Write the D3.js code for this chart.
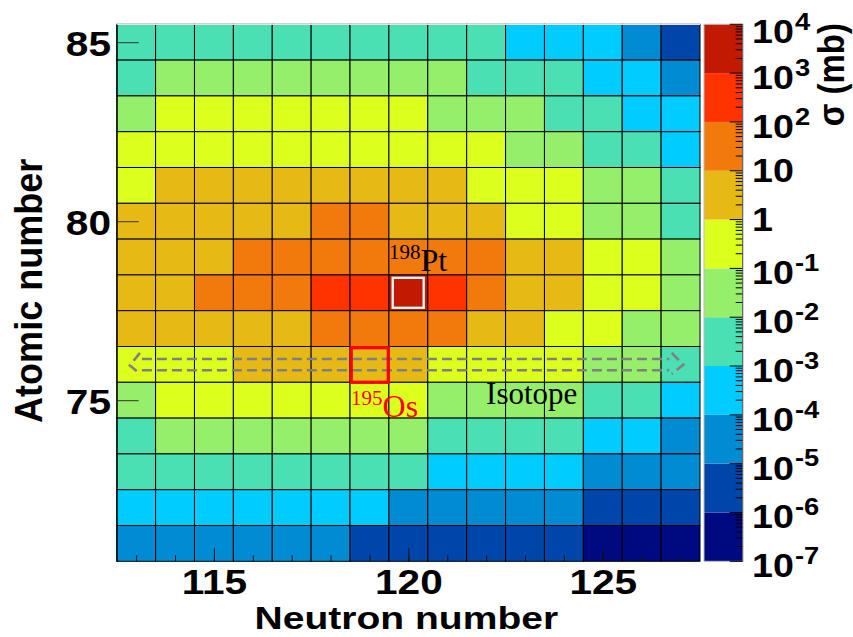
<!DOCTYPE html>
<html><head><meta charset="utf-8">
<script src="https://cdn.jsdelivr.net/npm/d3@7"></script>
<style>body{margin:0;background:#fff} svg{display:block}</style>
</head><body>
<svg id="chart" width="853" height="637"></svg>
<script>
// ---- data (cross sections in mb, read per cell from the picture) ----
const neutronNumbers = [113,114,115,116,117,118,119,120,121,122,123,124,125,126,127];
const atomicNumbers  = [85,84,83,82,81,80,79,78,77,76,75,74,73,72,71];
const crossSections = [
  [3e-3,3e-3,3e-3,3e-3,3e-3,3e-3,3e-3,3e-3,3e-3,3e-3,3e-4,3e-4,3e-4,3e-5,3e-6], // Z=85
  [3e-3,3e-2,3e-2,3e-2,3e-2,3e-2,3e-2,3e-2,3e-2,3e-3,3e-3,3e-3,3e-4,3e-4,3e-5], // Z=84
  [3e-2,0.3,0.3,0.3,0.3,0.3,0.3,0.3,3e-2,3e-2,3e-2,3e-3,3e-3,3e-4,3e-4],        // Z=83
  [0.3,0.3,0.3,0.3,0.3,0.3,0.3,0.3,0.3,0.3,3e-2,3e-2,3e-3,3e-3,3e-4],           // Z=82
  [0.3,3,3,3,3,3,3,3,3,0.3,0.3,0.3,3e-2,3e-2,3e-3],                             // Z=81
  [3,3,3,3,3,30,30,3,3,3,0.3,0.3,3e-2,3e-2,3e-3],                               // Z=80
  [3,3,3,30,30,30,30,30,30,30,3,3,0.3,0.3,3e-2],                                // Z=79
  [3,3,30,30,30,300,300,3000,300,30,3,3,0.3,0.3,3e-2],                          // Z=78
  [3,3,3,3,3,30,30,30,30,3,3,0.3,0.3,3e-2,3e-2],                                // Z=77
  [0.3,0.3,0.3,3,3,3,3,3,0.3,0.3,0.3,0.3,3e-2,3e-2,3e-3],                       // Z=76
  [3e-2,0.3,0.3,0.3,0.3,0.3,0.3,0.3,3e-2,3e-2,3e-2,3e-2,3e-3,3e-3,3e-4],        // Z=75
  [3e-3,3e-2,3e-2,3e-2,3e-2,3e-2,3e-2,3e-2,3e-3,3e-3,3e-3,3e-3,3e-4,3e-4,3e-5], // Z=74
  [3e-3,3e-3,3e-3,3e-3,3e-3,3e-3,3e-3,3e-3,3e-4,3e-4,3e-4,3e-4,3e-5,3e-5,3e-5], // Z=73
  [3e-4,3e-4,3e-4,3e-4,3e-4,3e-4,3e-4,3e-5,3e-5,3e-5,3e-5,3e-5,3e-6,3e-6,3e-6], // Z=72
  [3e-5,3e-5,3e-5,3e-5,3e-5,3e-5,3e-6,3e-6,3e-6,3e-6,3e-6,3e-6,3e-7,3e-7,3e-7]  // Z=71
];
const colorDecades = [1e-7,1e-6,1e-5,1e-4,1e-3,1e-2,1e-1,1,10,100,1e3,1e4];
const paletteColors = ["#000a80","#0045a9","#008bd2","#00ccff","#4bdfb4","#96ef6a",
                       "#dcff1e","#e6b914","#f27a0c","#ff3300","#c21a00"];
const colorExponents = [-7,-6,-5,-4,-3,-2,-1,0,1,2,3,4];
const xTickLabels = [115,120,125];
const yTickLabels = [75,80,85];
const highlightPt = {n:120, z:78, mass:"198", el:"Pt"};
const highlightOs = {n:119, z:76, mass:"195", el:"Os"};
const isotopeLine = {from:112.84, to:127.07, z:76, label:"Isotope", labelN:122.0, labelZ:75};

// ---- layout ----
const svg = d3.select("#chart");
const X0=116.7, X1=700, Y0=24.3, Y1=561.3;
const x = d3.scaleLinear().domain([112.5,127.5]).range([X0,X1]);
const y = d3.scaleLinear().domain([70.5,85.5]).range([Y1,Y0]);
const color = d3.scaleThreshold().domain(colorDecades.slice(1,-1)).range(paletteColors);
const cAxis = d3.scaleLog().domain([1e-7,1e4]).range([Y1,Y0]);
const SANS = "'Liberation Sans', Arial, Helvetica, sans-serif";
const SERIF = "'Liberation Serif', 'Times New Roman', serif";

// ---- cells ----
const cells = [];
atomicNumbers.forEach((z,i)=>neutronNumbers.forEach((n,j)=>cells.push({n, z, v:crossSections[i][j]})));
svg.append("g").selectAll("rect").data(cells).join("rect")
  .attr("x", d=>x(d.n-0.5)).attr("y", d=>y(d.z+0.5))
  .attr("width", d=>x(d.n+0.5)-x(d.n-0.5)).attr("height", d=>y(d.z-0.5)-y(d.z+0.5))
  .attr("fill", d=>color(d.v)).attr("stroke","#000").attr("stroke-width",1);
svg.append("line").attr("x1",X0).attr("x2",X1).attr("y1",Y0).attr("y2",Y0)
  .attr("stroke","#e4e4e4").attr("stroke-width",1.2);

// ---- x axis ----
const gxMinor = svg.append("g").attr("transform",`translate(0,${Y1})`)
  .call(d3.axisBottom(x).tickValues(neutronNumbers).tickSizeInner(-6).tickSizeOuter(0).tickFormat(""));
gxMinor.select(".domain").remove();
gxMinor.selectAll("line").attr("stroke","#111");
const gx = svg.append("g").attr("transform",`translate(0,${Y1})`)
  .call(d3.axisBottom(x).tickValues(xTickLabels).tickSizeInner(-13).tickSizeOuter(0).tickPadding(0));
gx.select(".domain").remove();
gx.selectAll("line").attr("stroke","#111");
gx.attr("font-family",SANS).attr("font-size",35).attr("font-weight","bold");
gx.selectAll("text").attr("y",32.7).attr("dy",0).attr("fill","#000").attr("transform","scale(1.16,1)");

// ---- y axis ----
const gy = svg.append("g").attr("transform",`translate(${X0},0)`)
  .call(d3.axisLeft(y).tickValues(yTickLabels).tickSizeInner(-22).tickSizeOuter(0));
gy.select(".domain").attr("stroke","#000");
gy.selectAll("line").attr("stroke","#333");
gy.attr("font-family",SANS).attr("font-size",35).attr("font-weight","bold");
gy.selectAll("text").attr("x",0).attr("dy",0).attr("fill","#000")
  .attr("transform","translate(-5.7,13.5) scale(1.16,1)");

// ---- axis titles ----
svg.append("text").attr("transform",`translate(${(X0+X1)/2-2},629.3) scale(1.22,1)`)
  .attr("text-anchor","middle").attr("font-family",SANS).attr("font-weight","bold")
  .attr("font-size",32).text("Neutron number");
svg.append("text").attr("transform",`translate(41.7,${(Y0+Y1)/2-2}) rotate(-90) scale(1.03,1.1)`)
  .attr("text-anchor","middle").attr("font-family",SANS).attr("font-weight","bold")
  .attr("font-size",35).text("Atomic number");

// ---- colour bar ----
const cbX0 = 704, cbX1 = 742.7;
const bands = paletteColors.map((c,i)=>({c, lo:colorDecades[i], hi:colorDecades[i+1]}));
svg.append("g").selectAll("rect").data(bands).join("rect")
  .attr("x",cbX0).attr("width",cbX1-cbX0)
  .attr("y",d=>cAxis(d.hi)).attr("height",d=>cAxis(d.lo)-cAxis(d.hi))
  .attr("fill",d=>d.c);
svg.append("rect").attr("x",cbX0).attr("y",Y0).attr("width",cbX1-cbX0).attr("height",Y1-Y0)
  .attr("fill","none").attr("stroke","#bbb").attr("stroke-width",1);
const cbTicks = cAxis.ticks(20);
svg.append("g").selectAll("line").data(cbTicks).join("line")
  .attr("x1",cbX1).attr("x2",d=>{const e=Math.log10(d); return cbX1-(Math.abs(e-Math.round(e))<1e-9?13:7);})
  .attr("y1",d=>cAxis(d)).attr("y2",d=>cAxis(d))
  .attr("stroke","#000").attr("stroke-width",1);
svg.append("line").attr("x1",cbX1).attr("x2",cbX1).attr("y1",Y0).attr("y2",Y1).attr("stroke","#555");

const cbLabels = svg.append("g").attr("font-family",SANS).attr("font-weight","bold").attr("fill","#000");
colorExponents.forEach(e=>{
  const sup = (e!==0 && e!==1);
  const yy = cAxis(Math.pow(10,e));
  const base = Math.max(yy + (sup?16:11.7), Y0+19);
  const t = cbLabels.append("text").attr("transform",`translate(752,${base}) scale(1.14,1)`)
    .attr("font-size",33);
  if (e===0) t.text("1");
  else if (e===1) t.text("10");
  else {
    t.append("tspan").text("10");
    t.append("tspan").attr("font-size",24).attr("dy",-13.3).attr("dx",1).text(String(e));
  }
});
svg.append("text").attr("transform",`translate(844,23) rotate(-90) scale(1,1.12)`)
  .attr("text-anchor","end").attr("font-family",SANS).attr("font-weight","bold")
  .attr("font-size",33).text("\u03c3 (mb)");

// ---- annotations ----
const cw = x(1)-x(0), ch = y(0)-y(1);
// isotope arrow (double dashed outline arrow)
const ay = y(isotopeLine.z), ax0 = x(isotopeLine.from), ax1 = x(isotopeLine.to);
const p = d3.path();
p.moveTo(ax0+12, ay-5.4); p.lineTo(ax1-14, ay-5.4);
p.moveTo(ax0+12, ay+5.8); p.lineTo(ax1-14, ay+5.8);
p.moveTo(ax0+10, ay-11.5); p.lineTo(ax0, ay+1); p.lineTo(ax0+10, ay+9.5);
p.moveTo(ax1-11.5, ay-11.5); p.lineTo(ax1, ay+0.5); p.lineTo(ax1-11.5, ay+9.5);
svg.append("path").attr("d",p.toString()).attr("fill","none")
  .attr("stroke","#808080").attr("stroke-width",2.6).attr("stroke-dasharray","10,5");

// white box around 198Pt
svg.append("rect")
  .attr("x",x(highlightPt.n-0.5)+3.8).attr("y",y(highlightPt.z+0.5)+2.9)
  .attr("width",cw-7.9).attr("height",ch-5.8)
  .attr("fill","none").attr("stroke","#fff").attr("stroke-width",2.3);
// red box around 195Os
svg.append("rect")
  .attr("x",x(highlightOs.n-0.5)+1.2).attr("y",y(highlightOs.z+0.5)+1.2)
  .attr("width",cw-1.8).attr("height",ch-1.2)
  .attr("fill","none").attr("stroke","#ff0000").attr("stroke-width",3.3);

const ptLabel = svg.append("text").attr("x",x(highlightPt.n-0.5)).attr("y",y(highlightPt.z+0.5)-4.2)
  .attr("font-family",SERIF).attr("fill","#000");
ptLabel.append("tspan").attr("font-size",21).attr("dy",-11.4).text(highlightPt.mass);
ptLabel.append("tspan").attr("font-size",32).attr("dy",11.4).text(highlightPt.el);

const osLabel = svg.append("text").attr("x",x(highlightOs.n-0.5)+1).attr("y",y(highlightOs.z-0.5)+34.4)
  .attr("font-family",SERIF).attr("fill","#ff0000");
osLabel.append("tspan").attr("font-size",21).attr("dy",-11.6).text(highlightOs.mass);
osLabel.append("tspan").attr("font-size",32).attr("dy",11.6).text(highlightOs.el);

svg.append("text").attr("x",x(isotopeLine.labelN)).attr("y",y(isotopeLine.labelZ)+4)
  .attr("font-family",SERIF).attr("font-size",31).attr("fill","#000").text(isotopeLine.label);
</script>
</body></html>
